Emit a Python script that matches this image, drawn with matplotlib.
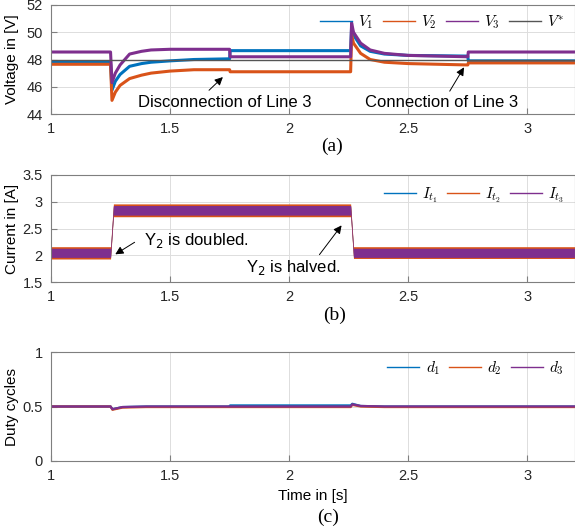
import matplotlib
matplotlib.use("Agg")
import matplotlib.pyplot as plt

# ==========================
# Data
# ==========================
# (a) voltages
v_time = [1.00, 1.25, 1.256, 1.27, 1.29, 1.33, 1.38, 1.42, 1.50, 1.60, 1.75, 1.752,
          2.258, 2.262, 2.27, 2.30, 2.34, 2.40, 2.50, 2.75, 2.752, 3.20]
V1 = [47.8, 47.8, 45.75, 46.4, 46.9, 47.5, 47.7, 47.8, 47.9, 48.0, 48.05, 48.65,
      48.65, 50.4, 49.8, 49.0, 48.6, 48.4, 48.3, 48.25, 47.9, 47.9]
V2 = [47.65, 47.65, 45.0, 45.6, 46.1, 46.6, 46.85, 47.0, 47.15, 47.25, 47.25, 47.1,
      47.1, 49.8, 49.2, 48.45, 48.0, 47.8, 47.7, 47.6, 47.75, 47.75]
V3 = [48.55, 48.55, 46.3, 47.0, 47.6, 48.4, 48.6, 48.7, 48.75, 48.75, 48.75, 48.2,
      48.2, 50.7, 50.0, 49.2, 48.7, 48.45, 48.3, 48.2, 48.55, 48.55]
V_ref = 48.0

# (b) currents: noise envelopes
i_time = [1.00, 1.25, 1.262, 2.258, 2.27, 3.20]
I1_lo = [1.97, 1.97, 2.77, 2.77, 1.98, 1.98]
I1_hi = [2.12, 2.12, 2.91, 2.91, 2.12, 2.12]
I2_lo = [1.93, 1.93, 2.72, 2.72, 1.94, 1.94]
I2_hi = [2.16, 2.16, 2.96, 2.96, 2.16, 2.16]
I3_lo = [1.96, 1.96, 2.75, 2.75, 1.96, 1.96]
I3_hi = [2.13, 2.13, 2.93, 2.93, 2.13, 2.13]

# (c) duty cycles
d_time = [1.00, 1.25, 1.258, 1.30, 1.40, 1.75, 1.752, 2.258, 2.265, 2.30, 2.40, 3.20]
d1 = [0.50, 0.50, 0.475, 0.495, 0.50, 0.50, 0.51, 0.51, 0.525, 0.505, 0.50, 0.50]
d2 = [0.50, 0.50, 0.47, 0.49, 0.495, 0.495, 0.495, 0.495, 0.515, 0.50, 0.495, 0.495]
d3 = [0.50, 0.50, 0.475, 0.495, 0.50, 0.50, 0.50, 0.50, 0.52, 0.505, 0.50, 0.50]

BLUE = "#0072BD"
ORANGE = "#D95319"
PURPLE = "#7E2F8E"
GREY = "#555555"

plt.rcParams["font.family"] = ["Liberation Sans", "DejaVu Sans"]
plt.rcParams["mathtext.fontset"] = "cm"

fig = plt.figure(figsize=(5.75, 5.31), dpi=100)
W, H = 575, 531


def make_axes(top_px, bottom_px):
    return fig.add_axes([51 / W, 1 - bottom_px / H, (W - 51) / W, (bottom_px - top_px) / H])


def style(ax, ylim, yticks):
    ax.set_xlim(1, 3.2)
    ax.set_ylim(*ylim)
    ax.set_xticks([1, 1.5, 2, 2.5, 3])
    ax.set_xticklabels(["1", "1.5", "2", "2.5", "3"])
    ax.set_yticks(yticks)
    ax.grid(True, color="#dddddd", lw=0.7)
    ax.set_axisbelow(True)
    ax.tick_params(direction="in", length=4, labelsize=10.5, colors="#7f7f7f",
                   labelcolor="#262626", pad=6)
    for s in ax.spines.values():
        s.set_color("#7f7f7f")
        s.set_linewidth(0.8)
    ax.yaxis.set_label_coords(-0.062, 0.5)


leg_kw = dict(loc="center right", frameon=False, fontsize=11, handlelength=2.1,
              handletextpad=0.4, columnspacing=0.6, borderaxespad=0.3)

# ==========================
# (a) Voltages
# ==========================
ax1 = make_axes(5, 114)
ax1.plot(v_time, V1, color=BLUE, lw=2.2, label="$V_1$")
ax1.plot(v_time, V2, color=ORANGE, lw=2.2, label="$V_2$")
ax1.plot(v_time, V3, color=PURPLE, lw=2.2, label="$V_3$")
ax1.axhline(V_ref, color=GREY, lw=1, label="$V^{*}$")
style(ax1, (44, 52), [44, 46, 48, 50, 52])
ax1.set_ylabel("Voltage in [V]", fontsize=11)
leg = ax1.legend(ncol=4, bbox_to_anchor=(1.0, 0.845), **leg_kw)
for h in leg.get_lines():
    h.set_linewidth(1)

arrow = dict(arrowstyle="-|>", color="black", lw=0.7, mutation_scale=12)
ax1.annotate("", xy=(1.73, 46.85), xytext=(1.655, 45.6), arrowprops=arrow)
ax1.text(1.73, 44.87, "Disconnection of Line 3", ha="center", va="center", fontsize=12)
ax1.annotate("", xy=(2.74, 47.6), xytext=(2.668, 45.5), arrowprops=arrow)
ax1.text(2.64, 44.87, "Connection of Line 3", ha="center", va="center", fontsize=12)

# ==========================
# (b) Currents
# ==========================
ax2 = make_axes(175, 282)
ax2.fill_between(i_time, I1_lo, I1_hi, color=BLUE, lw=0)
ax2.fill_between(i_time, I2_lo, I2_hi, color=ORANGE, lw=0)
ax2.fill_between(i_time, I3_lo, I3_hi, color=PURPLE, lw=0)
ax2.plot([], [], color=BLUE, lw=1, label="$I_{t_1}$")
ax2.plot([], [], color=ORANGE, lw=1, label="$I_{t_2}$")
ax2.plot([], [], color=PURPLE, lw=1, label="$I_{t_3}$")
style(ax2, (1.5, 3.5), [1.5, 2, 2.5, 3, 3.5])
ax2.set_yticklabels(["1.5", "2", "2.5", "3", "3.5"])
ax2.set_ylabel("Current in [A]", fontsize=11)
ax2.legend(ncol=3, bbox_to_anchor=(1.0, 0.813), **leg_kw)

ax2.annotate("", xy=(1.26, 1.99), xytext=(1.361, 2.27), arrowprops=arrow)
ax2.text(1.39, 2.28, "Y$_2$ is doubled.", ha="left", va="center", fontsize=12,
         math_fontfamily="dejavusans")
ax2.annotate("", xy=(2.227, 2.60), xytext=(2.12, 1.97), arrowprops=arrow)
ax2.text(1.82, 1.78, "Y$_2$ is halved.", ha="left", va="center", fontsize=12,
         math_fontfamily="dejavusans")

# ==========================
# (c) Duty cycles
# ==========================
ax3 = make_axes(352, 461)
ax3.plot(d_time, d1, color=BLUE, lw=1.6, label="$d_1$")
ax3.plot(d_time, d2, color=ORANGE, lw=1.6, label="$d_2$")
ax3.plot(d_time, d3, color=PURPLE, lw=1.6, label="$d_3$")
style(ax3, (0, 1), [0, 0.5, 1])
ax3.set_yticklabels(["0", "0.5", "1"])
ax3.set_ylabel("Duty cycles", fontsize=11)
leg = ax3.legend(ncol=3, bbox_to_anchor=(1.0, 0.853), **leg_kw)
for h in leg.get_lines():
    h.set_linewidth(1)
ax3.set_xlabel("Time in [s]", fontsize=11)
ax3.xaxis.set_label_coords(0.5, -0.26)

# panel tags
fig.text(332 / W, 1 - 146 / H, "(a)", ha="center", va="center", fontsize=14,
         family="Liberation Serif")
fig.text(335 / W, 1 - 315 / H, "(b)", ha="center", va="center", fontsize=14,
         family="Liberation Serif")
fig.text(328 / W, 1 - 517 / H, "(c)", ha="center", va="center", fontsize=14,
         family="Liberation Serif")

fig.savefig("out.png", dpi=100)
plt.close(fig)
